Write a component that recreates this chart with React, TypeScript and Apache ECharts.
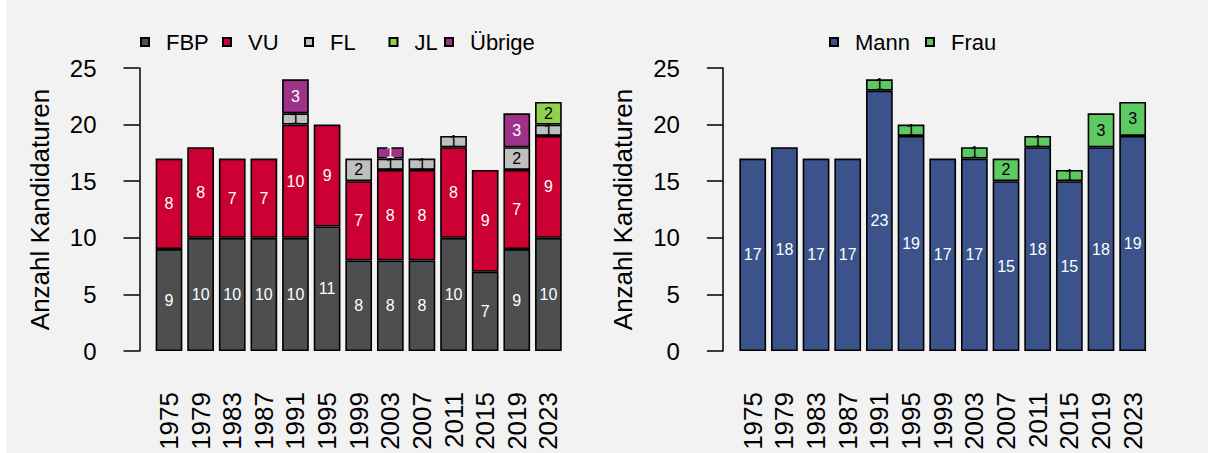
import React, { useEffect, useRef } from "react";
import * as echarts from "echarts";

const years = ["1975", "1979", "1983", "1987", "1991", "1995", "1999", "2003", "2007", "2011", "2015", "2019", "2023"];
const fbp = [9, 10, 10, 10, 10, 11, 8, 8, 8, 10, 7, 9, 10];
const vu = [8, 8, 7, 7, 10, 9, 7, 8, 8, 8, 9, 7, 9];
const fl = [0, 0, 0, 0, 1, 0, 2, 1, 1, 1, 0, 2, 1];
const jl = [0, 0, 0, 0, 0, 0, 0, 0, 0, 0, 0, 0, 2];
const uebrige = [0, 0, 0, 0, 3, 0, 0, 1, 0, 0, 0, 3, 0];
const mann = [17, 18, 17, 17, 23, 19, 17, 17, 15, 18, 15, 18, 19];
const frau = [0, 0, 0, 0, 1, 1, 0, 1, 2, 1, 1, 3, 3];
const yMin = 0;
const yMax = 25;
const yStep = 5;

const FONT = "'Liberation Sans', Arial, sans-serif";

export default function App() {
  const ref = useRef<HTMLDivElement>(null);
  useEffect(() => {
    if (!ref.current) return;
    const chart = echarts.init(ref.current, undefined, { renderer: "svg" });

    const mk = (name: string, data: number[], color: string, labelColor: string, idx: number) => ({
      type: "bar",
      name,
      stack: "s" + idx,
      xAxisIndex: idx,
      yAxisIndex: idx,
      data: data.map((v) => (v > 0 ? v : "-")),
      barCategoryGap: "15.5%",
      itemStyle: { color, borderColor: "#000", borderWidth: 1.6 },
      label: {
        show: true,
        position: "inside",
        color: labelColor,
        fontSize: 16,
        fontFamily: FONT,
        formatter: "{c}",
      },
      emphasis: { disabled: true },
    });

    const yAxis = (gi: number, offset: number) => ({
      type: "value",
      gridIndex: gi,
      min: yMin,
      max: yMax,
      interval: yStep,
      offset,
      name: "Anzahl Kandidaturen",
      nameLocation: "middle",
      nameGap: 87,
      nameTextStyle: { fontSize: 26, color: "#000", fontFamily: FONT },
      axisLine: { show: true, lineStyle: { color: "#000", width: 1.5 } },
      axisTick: { show: true, length: 16, lineStyle: { color: "#000", width: 1.5 } },
      axisLabel: { fontSize: 24, color: "#000", margin: 43, fontFamily: FONT },
      splitLine: { show: false },
    });

    const xAxis = (gi: number) => ({
      type: "category",
      gridIndex: gi,
      data: years,
      axisLine: { show: false },
      axisTick: { show: false },
      axisLabel: { rotate: 90, margin: 41, fontSize: 26, color: "#000", fontFamily: FONT, interval: 0 },
    });

    const legendItem = (name: string, left: number) => ({
      data: [name],
      left,
      top: 30,
      padding: 0,
      icon: "rect",
      itemWidth: 8,
      itemHeight: 8,
      selectedMode: false,
      textStyle: { fontSize: 22, color: "#000", fontFamily: FONT, lineHeight: 24, padding: [0, 0, 0, 12] },
    });

    chart.setOption({
      animation: false,
      backgroundColor: "#f2f2f2",
      textStyle: { fontFamily: FONT },
      graphic: [{ type: "rect", shape: { x: 0, y: 0, width: 6, height: 453 }, style: { fill: "#ffffff" } }],
      legend: [
        legendItem("FBP", 140),
        legendItem("VU", 222),
        legendItem("FL", 304),
        legendItem("JL", 388.5),
        legendItem("Übrige", 444),
        legendItem("Mann", 829),
        legendItem("Frau", 925),
      ],
      grid: [
        { left: 153.2, top: 68, width: 411, height: 283 },
        { left: 736.9, top: 68, width: 411.6, height: 283 },
      ],
      xAxis: [xAxis(0), xAxis(1)],
      yAxis: [yAxis(0, 13.7), yAxis(1, 14)],
      series: [
        mk("FBP", fbp, "#4d4e50", "#ffffff", 0),
        mk("VU", vu, "#cc0033", "#ffffff", 0),
        mk("FL", fl, "#bfbfbf", "#000000", 0),
        mk("JL", jl, "#92d050", "#000000", 0),
        mk("Übrige", uebrige, "#9e3288", "#ffffff", 0),
        mk("Mann", mann, "#3b528b", "#ffffff", 1),
        mk("Frau", frau, "#5ec962", "#000000", 1),
      ],
    });
    return () => chart.dispose();
  }, []);
  return <div ref={ref} style={{ position: "fixed", left: 0, top: 0, width: 1208, height: 453 }} />;
}
